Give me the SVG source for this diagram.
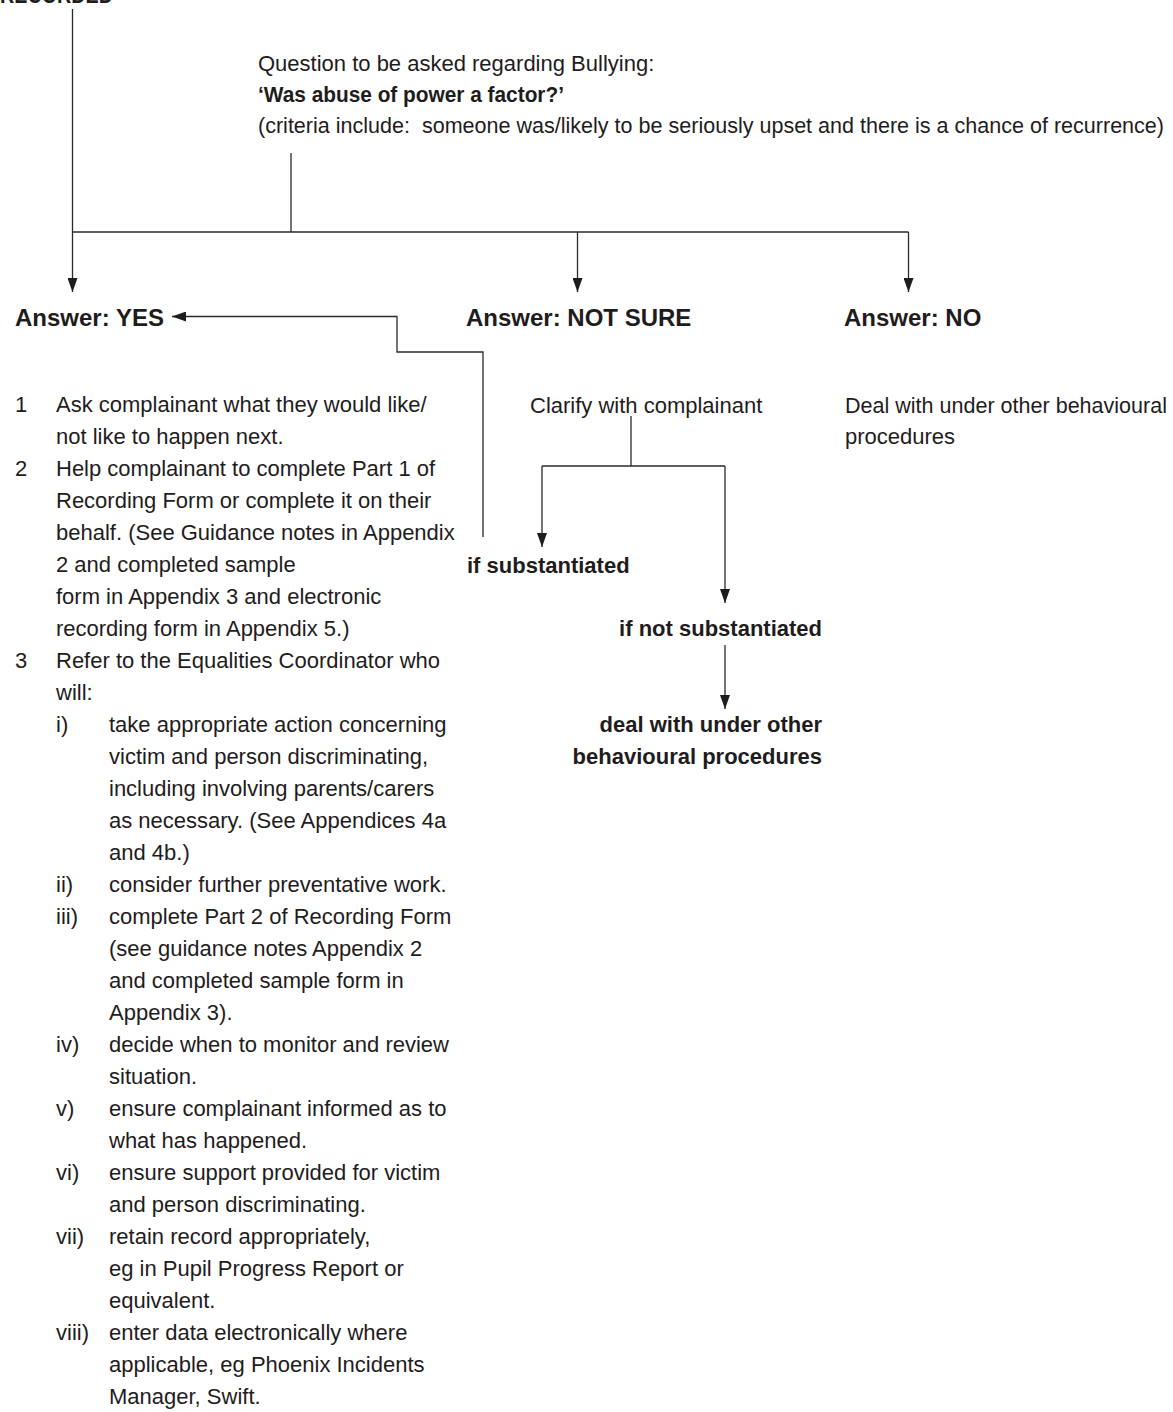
<svg xmlns="http://www.w3.org/2000/svg" width="1173" height="1412" viewBox="0 0 1173 1412">
<style>
text{font-family:"Liberation Sans",Arial,sans-serif;fill:#1f1c1d;font-size:22px}
.b{font-weight:bold}
.h{font-weight:bold;font-size:24px}
.e{text-anchor:end}
.ln{fill:none;stroke:#2a2a2a;stroke-width:1.3}
</style>
<defs>
<marker id="ah" viewBox="0 0 14 10" refX="14" refY="5" markerWidth="14" markerHeight="10" markerUnits="userSpaceOnUse" orient="auto">
<path d="M0,0 L14,5 L0,10 z" fill="#1f1c1d"/>
</marker>
</defs>
<rect width="1173" height="1412" fill="#fff"/>

<g id="connectors">
<path class="ln" d="M72.5,9 V292" marker-end="url(#ah)"/>
<path class="ln" d="M291,153 V232"/>
<path class="ln" d="M72.5,232 H908.5"/>
<path class="ln" d="M577.5,232 V292" marker-end="url(#ah)"/>
<path class="ln" d="M908.5,232 V292" marker-end="url(#ah)"/>
<path class="ln" d="M483,537 V352 H397 V316.5 H172" marker-end="url(#ah)"/>
<path class="ln" d="M631,416 V466"/>
<path class="ln" d="M542,466 H725"/>
<path class="ln" d="M542,466 V547" marker-end="url(#ah)"/>
<path class="ln" d="M725,466 V603" marker-end="url(#ah)"/>
<path class="ln" d="M725,645 V709" marker-end="url(#ah)"/>
</g>

<g id="recorded"><text class="h" x="0" y="3" textLength="113" lengthAdjust="spacingAndGlyphs">RECORDED</text></g>

<g id="question">
<text x="258" y="71">Question to be asked regarding Bullying:</text>
<text class="b" x="258" y="102" textLength="306" lengthAdjust="spacingAndGlyphs">‘Was abuse of power a factor?’</text>
<text x="258" y="133" textLength="906" lengthAdjust="spacingAndGlyphs">(criteria include:&#160; someone was/likely to be seriously upset and there is a chance of recurrence)</text>
</g>

<g id="answer-yes">
<text class="h" x="15" y="326">Answer: YES</text>
</g>
<g id="answer-notsure">
<text class="h" x="466" y="326">Answer: NOT SURE</text>
</g>
<g id="answer-no">
<text class="h" x="844" y="326">Answer: NO</text>
</g>

<g id="clarify"><text x="530" y="413">Clarify with complainant</text></g>
<g id="deal-no">
<text x="845" y="413" textLength="322" lengthAdjust="spacingAndGlyphs">Deal with under other behavioural</text>
<text x="845" y="444">procedures</text>
</g>
<g id="if-substantiated"><text class="b" x="467" y="573">if substantiated</text></g>
<g id="if-not-substantiated"><text class="b e" x="822" y="636">if not substantiated</text></g>
<g id="deal-other">
<text class="b e" x="822" y="732">deal with under other</text>
<text class="b e" x="822" y="764">behavioural procedures</text>
</g>

<g id="yes-list">
<text x="15" y="412">1</text><text x="56" y="412">Ask complainant what they would like/</text>
<text x="56" y="444">not like to happen next.</text>
<text x="15" y="476">2</text><text x="56" y="476">Help complainant to complete Part 1 of</text>
<text x="56" y="508">Recording Form or complete it on their</text>
<text x="56" y="540">behalf. (See Guidance notes in Appendix</text>
<text x="56" y="572">2 and completed sample</text>
<text x="56" y="604">form in Appendix 3 and electronic</text>
<text x="56" y="636">recording form in Appendix 5.)</text>
<text x="15" y="668">3</text><text x="56" y="668">Refer to the Equalities Coordinator who</text>
<text x="56" y="700">will:</text>
<text x="56" y="732">i)</text><text x="109" y="732">take appropriate action concerning</text>
<text x="109" y="764">victim and person discriminating,</text>
<text x="109" y="796">including involving parents/carers</text>
<text x="109" y="828">as necessary. (See Appendices 4a</text>
<text x="109" y="860">and 4b.)</text>
<text x="56" y="892">ii)</text><text x="109" y="892">consider further preventative work.</text>
<text x="56" y="924">iii)</text><text x="109" y="924">complete Part 2 of Recording Form</text>
<text x="109" y="956">(see guidance notes Appendix 2</text>
<text x="109" y="988">and completed sample form in</text>
<text x="109" y="1020">Appendix 3).</text>
<text x="56" y="1052">iv)</text><text x="109" y="1052">decide when to monitor and review</text>
<text x="109" y="1084">situation.</text>
<text x="56" y="1116">v)</text><text x="109" y="1116">ensure complainant informed as to</text>
<text x="109" y="1148">what has happened.</text>
<text x="56" y="1180">vi)</text><text x="109" y="1180">ensure support provided for victim</text>
<text x="109" y="1212">and person discriminating.</text>
<text x="56" y="1244">vii)</text><text x="109" y="1244">retain record appropriately,</text>
<text x="109" y="1276">eg in Pupil Progress Report or</text>
<text x="109" y="1308">equivalent.</text>
<text x="56" y="1340">viii)</text><text x="109" y="1340">enter data electronically where</text>
<text x="109" y="1372">applicable, eg Phoenix Incidents</text>
<text x="109" y="1404">Manager, Swift.</text>
</g>
</svg>
